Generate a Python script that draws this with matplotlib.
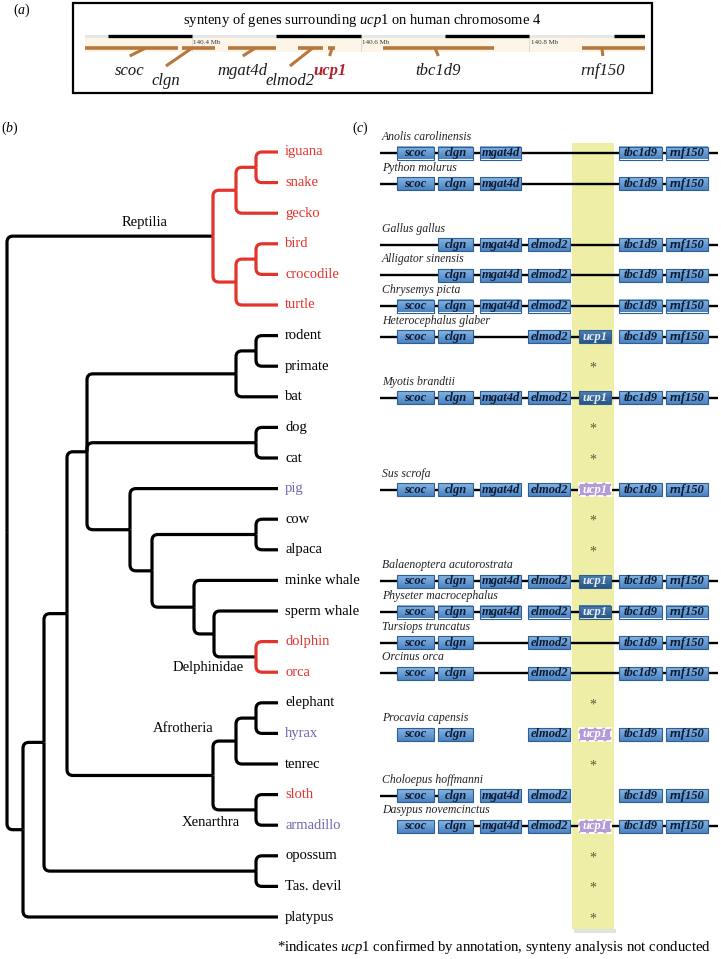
import matplotlib
matplotlib.use('Agg')
import matplotlib.pyplot as plt
from matplotlib.patches import Rectangle, PathPatch
from matplotlib.path import Path
from matplotlib.colors import to_rgb
import numpy as np

plt.rcParams['font.family'] = ['Liberation Serif', 'DejaVu Serif']
plt.rcParams['mathtext.fontset'] = 'custom'
plt.rcParams['mathtext.rm'] = 'Liberation Serif'
plt.rcParams['mathtext.it'] = 'Liberation Serif:italic'
plt.rcParams['mathtext.bf'] = 'Liberation Serif:bold'

# ---------------- (a) human chromosome 4 region, positions in Mb
genes = ['scoc', 'clgn', 'mgat4d', 'elmod2', 'ucp1', 'tbc1d9', 'rnf150']
gene_start = [140.273, 140.388, 140.442, 140.525, 140.561, 140.626, 140.862]
gene_end = [140.383, 140.427, 140.499, 140.555, 140.570, 140.758, 140.937]
stem_pos = [140.345, 140.400, 140.475, 140.543, 140.566, 140.688, 140.886]
label_pos = [140.326, 140.369, 140.460, 140.516, 140.563, 140.692, 140.887]
label_row = [0, 1, 0, 1, 0, 0, 0]
region = (140.273, 140.937)
mb_ticks = [140.4, 140.6, 140.8]
dark_bands = [(140.3, 140.4), (140.5, 140.6), (140.7, 140.8), (140.9, 140.937)]

# ---------------- (b) tree
leaves = ['iguana', 'snake', 'gecko', 'bird', 'crocodile', 'turtle',
          'rodent', 'primate', 'bat', 'dog', 'cat', 'pig', 'cow', 'alpaca',
          'minke whale', 'sperm whale', 'dolphin', 'orca', 'elephant', 'hyrax',
          'tenrec', 'sloth', 'armadillo', 'opossum', 'Tas. devil', 'platypus']
lost = ['iguana', 'snake', 'gecko', 'bird', 'crocodile', 'turtle', 'dolphin', 'orca', 'sloth']
pseudo = ['pig', 'hyrax', 'armadillo']

# node: (depth, children)
nodes = {
    'root': (7, ['reptilia', 'mammalia']),
    'reptilia': (213, ['squamata', 'archelosauria']),
    'squamata': (236, ['ig_sn', 'gecko']),
    'ig_sn': (256, ['iguana', 'snake']),
    'archelosauria': (236, ['archosauria', 'turtle']),
    'archosauria': (256, ['bird', 'crocodile']),
    'mammalia': (23, ['theria', 'platypus']),
    'theria': (44, ['eutheria', 'marsupialia']),
    'marsupialia': (256, ['opossum', 'Tas. devil']),
    'eutheria': (67, ['boreoeutheria', 'atlantogenata']),
    'boreoeutheria': (87, ['euarch', 'carnivora', 'cetartiodactyla']),
    'euarch': (236, ['rod_pri', 'bat']),
    'rod_pri': (256, ['rodent', 'primate']),
    'carnivora': (256, ['dog', 'cat']),
    'cetartiodactyla': (130, ['pig', 'cetruminantia']),
    'cetruminantia': (152, ['bov', 'cetacea']),
    'bov': (256, ['cow', 'alpaca']),
    'cetacea': (194, ['minke whale', 'odontoceti']),
    'odontoceti': (214, ['sperm whale', 'delphinidae']),
    'delphinidae': (256, ['dolphin', 'orca']),
    'atlantogenata': (213, ['afrotheria', 'xenarthra']),
    'afrotheria': (236, ['ele_hyr', 'tenrec']),
    'ele_hyr': (256, ['elephant', 'hyrax']),
    'xenarthra': (256, ['sloth', 'armadillo']),
}
red_nodes = ['reptilia', 'squamata', 'ig_sn', 'archelosauria', 'archosauria', 'delphinidae']
clade_names = ['Reptilia', 'Delphinidae', 'Afrotheria', 'Xenarthra']

# ---------------- (c) synteny rows
syn_leaf = ['iguana', 'snake', 'bird', 'crocodile', 'turtle', 'rodent', 'bat', 'pig',
            'minke whale', 'sperm whale', 'dolphin', 'orca', 'hyrax', 'sloth', 'armadillo']
syn_species = ['Anolis carolinensis', 'Python molurus', 'Gallus gallus', 'Alligator sinensis',
               'Chrysemys picta', 'Heterocephalus glaber', 'Myotis brandtii', 'Sus scrofa',
               'Balaenoptera acutorostrata', 'Physeter macrocephalus', 'Tursiops truncatus',
               'Orcinus orca', 'Procavia capensis', 'Choloepus hoffmanni', 'Dasypus novemcinctus']
all7 = genes
syn_genes = [
    ['scoc', 'clgn', 'mgat4d', 'tbc1d9', 'rnf150'],
    ['scoc', 'clgn', 'mgat4d', 'tbc1d9', 'rnf150'],
    ['clgn', 'mgat4d', 'elmod2', 'tbc1d9', 'rnf150'],
    ['clgn', 'mgat4d', 'elmod2', 'tbc1d9', 'rnf150'],
    ['scoc', 'clgn', 'mgat4d', 'elmod2', 'tbc1d9', 'rnf150'],
    ['scoc', 'clgn', 'elmod2', 'ucp1', 'tbc1d9', 'rnf150'],
    all7, all7, all7, all7,
    ['scoc', 'clgn', 'elmod2', 'tbc1d9', 'rnf150'],
    ['scoc', 'clgn', 'elmod2', 'tbc1d9', 'rnf150'],
    ['scoc', 'clgn', 'elmod2', 'ucp1', 'tbc1d9', 'rnf150'],
    ['scoc', 'clgn', 'mgat4d', 'elmod2', 'tbc1d9', 'rnf150'],
    all7,
]
syn_ucp1 = ['', '', '', '', '', 'intact', 'intact', 'pseudo', 'intact', 'intact',
            '', '', 'pseudo', '', 'pseudo']
syn_links = [
    [('start', 'end')], [('start', 'rnf150')], [('start', 'end')], [('start', 'end')],
    [('start', 'end')], [('start', 'ucp1'), ('tbc1d9', 'end')], [('start', 'end')],
    [('start', 'mgat4d'), ('elmod2', 'tbc1d9')], [('start', 'end')],
    [('start', 'mgat4d'), ('elmod2', 'tbc1d9')], [('start', 'end')], [('start', 'end')],
    [], [('start', 'clgn')], [('clgn', 'end')],
]
annot_only = ['primate', 'dog', 'cat', 'cow', 'alpaca', 'elephant', 'tenrec',
              'opossum', 'Tas. devil', 'platypus']

RED = '#e3332b'
PURPLE = '#7462ae'

fig = plt.figure(figsize=(7.21, 9.59), dpi=100)
ax = fig.add_axes([0, 0, 1, 1])
W, H = 721, 959

# ---------------- panel (a)
ax.add_patch(Rectangle((73, 3), 579, 90, fill=False, lw=1.6, ec='black'))
ax.text(362, 20, r'synteny of genes surrounding $\mathit{ucp1}$ on human chromosome 4',
        ha='center', va='center', fontsize=10.5)
ax.text(22, 10, r'($\mathit{a}$)', ha='center', va='center', fontsize=10)

ax_a = fig.add_axes([85 / W, 1 - 95 / H, 560 / W, 67 / H])
ax_a.set_xlim(*region)
ax_a.set_ylim(95, 28)
ax_a.axis('off')
ax_a.patch.set_visible(False)
ax_a.fill_between(region, 37.5, 52, color='#fdf6e8', lw=0)
ax_a.fill_between(region, 34.5, 37.5, color='#e6e6e6', lw=0)
for a, b in dark_bands:
    ax_a.plot([a, b], [36, 36], color='black', lw=2.4, solid_capstyle='butt')
for t in mb_ticks:
    ax_a.plot([t, t], [37.5, 51], color='#d8d8d8', lw=0.6)
    ax_a.text(t + 0.0015, 42.5, f'{t} Mb', fontsize=5, va='center', ha='left',
              color='#333333')
BROWN = '#b8783c'
for g, s, e, sp, lp, r in zip(genes, gene_start, gene_end, stem_pos, label_pos, label_row):
    ax_a.plot([s, e], [48, 48], color=BROWN, lw=2.6, solid_capstyle='butt')
    ax_a.plot([sp, lp], [48, 56 if r == 0 else 66], color=BROWN, lw=2.2,
              solid_capstyle='butt')
    if g == 'ucp1':
        ax_a.text(lp, 71, g, ha='center', va='center', fontsize=12,
                  style='italic', weight='bold', color='#b0202a')
    else:
        ax_a.text(lp, 71 if r == 0 else 81, g, ha='center', va='center',
                  fontsize=12, style='italic', color='#1a1a1a')

# ---------------- panel (b): tree
ax.text(10, 128, r'($\mathit{b}$)', ha='center', va='center', fontsize=10)
leaf_y = {n: 152 + 30.6 * i for i, n in enumerate(leaves)}
LEAF_X = 278


def ypos(n):
    if n in nodes:
        ys = [ypos(c) for c in nodes[n][1]]
        return (ys[0] + ys[-1]) / 2
    return leaf_y[n]


def xpos(n):
    return nodes[n][0] if n in nodes else LEAF_X


def elbow(x0, y0, x1, y1, r=6):
    d = y1 - y0
    r = min(r, abs(d)) if d != 0 else 0
    sgn = np.sign(d)
    verts = [(x0, y0), (x0, y1 - sgn * r), (x0, y1), (x0 + r, y1), (x1, y1)]
    codes = [Path.MOVETO, Path.LINETO, Path.CURVE3, Path.CURVE3, Path.LINETO]
    return Path(verts, codes)


for n, (depth, kids) in nodes.items():
    col = RED if n in red_nodes else 'black'
    for c in kids:
        p = elbow(depth, ypos(n), xpos(c), ypos(c))
        ax.add_patch(PathPatch(p, fill=False, ec=col, lw=2.3, capstyle='butt',
                               joinstyle='round'))

for n in leaves:
    col = RED if n in lost else (PURPLE if n in pseudo else 'black')
    ax.text(285, leaf_y[n], n, ha='left', va='center', fontsize=10.5, color=col)

ax.text(145, 229, clade_names[0], ha='center', va='bottom', fontsize=10.5)
ax.text(208, 668, clade_names[1], ha='center', va='center', fontsize=10.5)
ax.text(183, 729, clade_names[2], ha='center', va='center', fontsize=10.5)
ax.text(211, 823, clade_names[3], ha='center', va='center', fontsize=10.5)

# ---------------- panel (c): synteny
ax.text(360, 128, r'($\mathit{c}$)', ha='center', va='center', fontsize=10)
col_left = [397, 438, 480, 528, 579, 619, 666]
col_right = [434, 473, 521, 570, 611, 662, 708]
col_mid = {g: (l + r) / 2 for g, l, r in zip(genes, col_left, col_right)}
col_mid['start'] = 380
col_mid['end'] = 718

ax.add_patch(Rectangle((574, 929), 42, 4, color='#e2e2e2', lw=0, zorder=0))
ax.add_patch(Rectangle((572, 143), 42, 786, color='#eeeea6', lw=0, zorder=0.5))


def grad(top, bottom):
    t = np.array(to_rgb(top))
    b = np.array(to_rgb(bottom))
    f = np.linspace(0, 1, 16)[:, None]
    return (t + (b - t) * f)[:, None, :]


g_blue = grad('#86b5e3', '#4c84c2')
g_dark = grad('#4d7fb3', '#2a5684')
BH = 13
for leaf, sp, gl, u, links in zip(syn_leaf, syn_species, syn_genes, syn_ucp1, syn_links):
    y = leaf_y[leaf] + 1
    ax.text(382, y - 16, sp, ha='left', va='center', fontsize=8.5,
            style='italic', color='#222222')
    for a, b in links:
        ax.plot([col_mid[a], col_mid[b]], [y, y], color='black', lw=1.7,
                solid_capstyle='butt', zorder=1)
    for g in gl:
        i = genes.index(g)
        x0, x1 = col_left[i], col_right[i]
        if g == 'ucp1' and u == 'pseudo':
            ax.add_patch(Rectangle((x0, y - BH / 2), x1 - x0, BH, fc='#b49ad6',
                                   ec='white', lw=1.4, ls=(0, (3, 1.5)), zorder=3))
            ax.text((x0 + x1) / 2, y, g, ha='center', va='center', fontsize=9,
                    style='italic', weight='bold', color='white', zorder=4)
            continue
        img = g_dark if g == 'ucp1' else g_blue
        ax.imshow(img, extent=(x0, x1, y + BH / 2, y - BH / 2), aspect='auto',
                  interpolation='bilinear', zorder=2)
        ax.add_patch(Rectangle((x0, y - BH / 2), x1 - x0, BH, fill=False,
                               ec='#2f5f92', lw=0.8, zorder=3))
        ax.text((x0 + x1) / 2, y, g, ha='center', va='center', fontsize=9,
                style='italic', weight='bold',
                color='#e6eef8' if g == 'ucp1' else '#0c1a33', zorder=4)

for leaf in annot_only:
    ax.text(593, leaf_y[leaf] + 2, '*', ha='center', va='center', fontsize=10,
            color='#5a5a3a', zorder=3)

ax.text(277, 947, r'*indicates $\mathit{ucp1}$ confirmed by annotation, synteny analysis not conducted',
        ha='left', va='center', fontsize=10.6)

ax.set_xlim(0, W)
ax.set_ylim(H, 0)
ax.axis('off')
fig.savefig('out.png', dpi=100)
